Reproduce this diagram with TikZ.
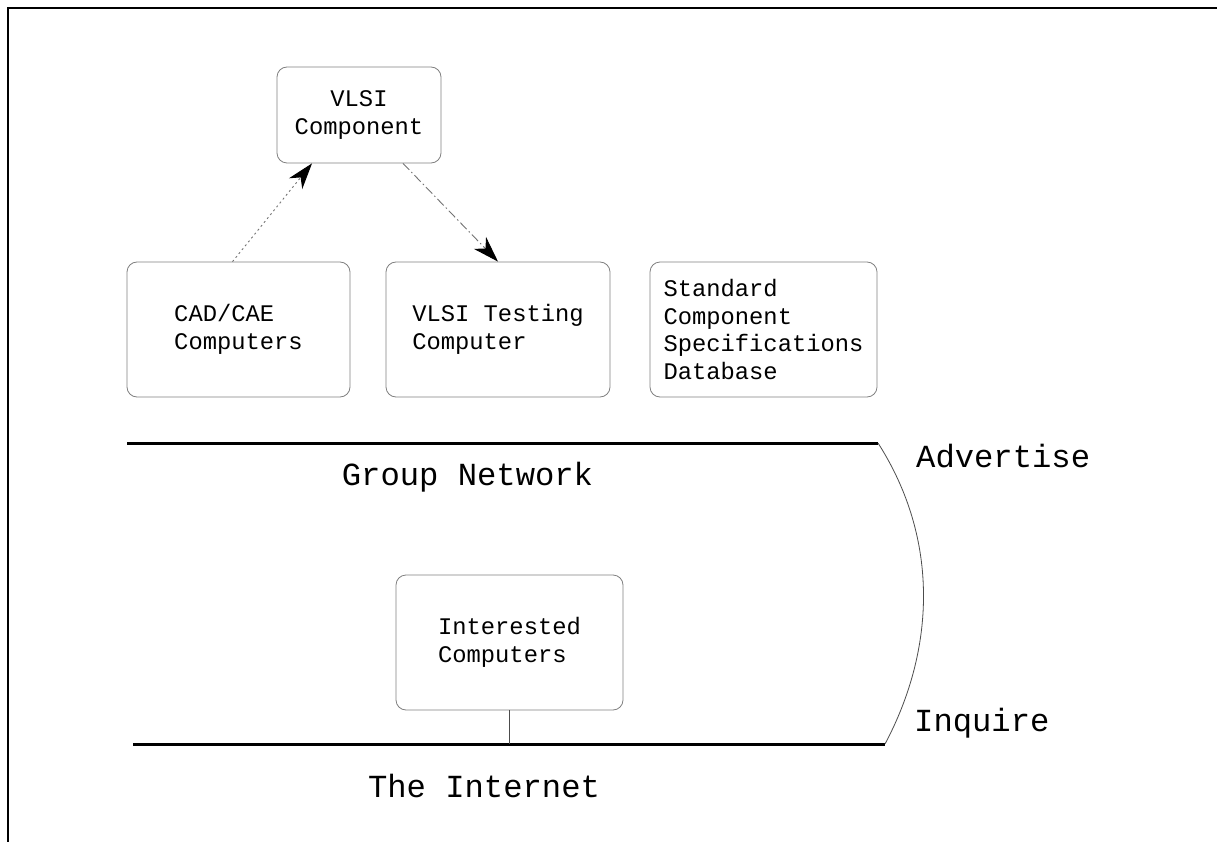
\documentclass[tikz,border=0pt]{standalone}
\usepackage{fontspec}
\setmonofont{Liberation Mono}
\usetikzlibrary{arrows.meta,calc}
\newcommand\smallmono{\ttfamily\fontsize{23.8}{27.5}\selectfont}
\newcommand\bigmono{\ttfamily\fontsize{32.2}{36}\selectfont}
\begin{document}
\begin{tikzpicture}[x=1pt,y=-1pt,
  box/.style={draw=black!50, line width=0.8pt, rounded corners=10pt, inner sep=0pt, align=left, font=\smallmono},
  netline/.style={line width=3pt},
  thinline/.style={draw=black!70, line width=0.8pt},
  conn/.style={draw=black!55, line width=0.9pt},
  tip/.style={-{Stealth[length=26pt,width=17pt,inset=8pt,black]}},
  biglabel/.style={font=\bigmono, inner sep=0pt}
]
\useasboundingbox (0,0) rectangle (1217,842);
% frame
\coordinate (f-bl) at (8,842);
\coordinate (f-tl) at (8,8);
\coordinate (f-tr) at (1217,8);
\draw[line width=2.2pt] (f-bl) -- (f-tl) -- (f-tr);

% boxes
\node[box, align=center, minimum width=164, minimum height=96] (vlsi) at (359,115) {VLSI\\Component};
\node[box, minimum width=223, minimum height=135] (cad) at (238.5,329.5) {CAD/CAE\\Computers};
\node[box, minimum width=224, minimum height=135] (test) at (498,329.5) {VLSI Testing\\Computer};
\node[box, minimum width=227, minimum height=135] (std) at (763.5,329.5) {Standard\\Component\\Specifications\\Database};
\node[box, minimum width=227, minimum height=135] (int) at (509.5,642.5) {Interested\\Computers};

% arrows
\draw[conn, dash pattern=on 2pt off 3pt, tip] ([xshift=-6]cad.north) -- ([xshift=-47]vlsi.south);
\draw[conn, dash pattern=on 9pt off 3pt on 1.5pt off 3pt, tip] ([xshift=44]vlsi.south) -- (test.north);

% networks
\coordinate (gn-l) at (127,443);
\coordinate (gn-r) at (878,443);
\coordinate (in-l) at (133,744);
\coordinate (in-r) at (885,744);
\draw[netline] (gn-l) -- (gn-r);
\draw[netline] (in-l) -- (in-r);
\draw[thinline] (int.south) -- (int.south |- in-l);
\draw[thinline] (gn-r) .. controls (940,540) and (935,650) .. (in-r);

% labels
\node[biglabel, anchor=base] (gnlab) at (467.5,485) {Group Network};
\node[biglabel, anchor=base] (inlab) at (484,797) {The Internet};
\node[biglabel, anchor=base west] (adv) at (916,467) {Advertise};
\node[biglabel, anchor=base west] (inq) at (914,731) {Inquire};
\end{tikzpicture}
\end{document}
